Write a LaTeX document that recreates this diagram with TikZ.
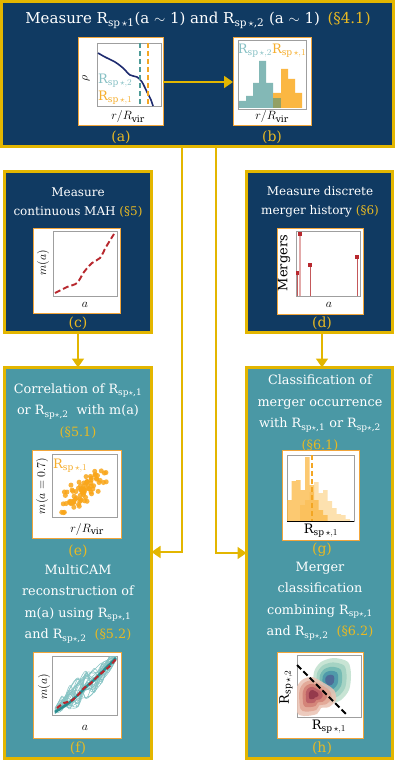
\documentclass[tikz,border=0pt]{standalone}
\usepackage{fontspec}
\setmainfont{DejaVu Serif}
\usetikzlibrary{arrows.meta,calc}
\definecolor{mynavy}{HTML}{103A62}
\definecolor{myteal}{HTML}{4A98A5}
\definecolor{myyellow}{HTML}{E3B600}
\definecolor{mygold}{HTML}{E8B923}
\definecolor{myorange}{HTML}{F2A53A}
\definecolor{dotorange}{HTML}{F9A61A}
\definecolor{lblteal}{HTML}{86C0C4}
\definecolor{lblorange}{HTML}{F6AE2D}
\definecolor{histteal}{HTML}{83B8B6}
\definecolor{historange}{HTML}{FBB742}
\definecolor{histolive}{HTML}{93A064}
\definecolor{curvenavy}{HTML}{1E2B6F}
\definecolor{dashteal}{HTML}{4E9B98}
\definecolor{dashorange}{HTML}{F3A623}
\definecolor{myred}{HTML}{B8282E}
\definecolor{stemred}{HTML}{C4585A}
\definecolor{stempink}{HTML}{E3AAAA}
\definecolor{thickteal}{HTML}{2A8C8F}
\definecolor{thinteal}{HTML}{86C4C4}
\newcommand{\Rs}[1]{R\textsubscript{sp$\star$,#1}}
\newcommand{\Rm}[1]{$\mathrm{R}_{\mathrm{sp}\,\star,#1}$}
\tikzset{
  stagebox/.style={draw=myyellow, line width=3pt, inner sep=0pt, outer sep=0pt, anchor=north west},
  navybox/.style={stagebox, fill=mynavy},
  tealbox/.style={stagebox, fill=myteal},
  plotbox/.style={draw=myorange, fill=white, line width=1pt, inner sep=0pt, outer sep=0pt, anchor=north west},
  axbox/.style={draw=gray!75, line width=0.6pt},
  conn/.style={draw=myyellow, line width=1.8pt, -{Triangle[width=12pt,length=9pt]}},
  wtext/.style={text=white, align=center, font=\fontsize{12.8}{21.5}\selectfont},
  wtextc/.style={text=white, align=center, font=\fontsize{12}{19}\selectfont},
  tag/.style={text=mygold, font=\fontsize{14}{15}\selectfont},
  plab/.style={font=\fontsize{13}{13}\selectfont, inner sep=0pt},
}
\begin{document}
\begin{tikzpicture}[x=1pt,y=-1pt]
\useasboundingbox (0,0) rectangle (397,762);
% ---------- stage boxes ----------
\node[navybox, minimum width=392, minimum height=145] (A) at (1.5,1.5) {};
\node[navybox, minimum width=147, minimum height=160.5] (C) at (4.5,171.5) {};
\node[navybox, minimum width=146, minimum height=160.5] (D) at (246.5,171.5) {};
\node[tealbox, minimum width=147, minimum height=391] (E) at (4.5,367.5) {};
\node[tealbox, minimum width=146, minimum height=391] (G) at (246.5,367.5) {};
% ---------- texts ----------
\node[text=white, font=\fontsize{15}{17}\selectfont] (tA) at (198,20)
  {Measure R\textsubscript{sp\,$\star$1}(a $\sim$ 1) and R\textsubscript{sp\,$\star$,2} (a $\sim$ 1)\enspace{\color{mygold}(§4.1)}};
\node[wtextc] (tC) at (78,203) {Measure\\continuous MAH {\color{mygold}(§5)}};
\node[wtextc] (tD) at (320,202) {Measure discrete\\merger history {\color{mygold}(§6)}};
\node[wtext] (tE) at (78,411) {Correlation of \Rs{1}\\or \Rs{2}~ with m(a)\\{\color{mygold}(§5.1)}};
\node[wtext] (tF) at (78,604) {MultiCAM\\reconstruction of\\m(a) using \Rs{1}\\and \Rs{2}~ {\color{mygold}(§5.2)}};
\node[wtext] (tG) at (320,413) {Classification of\\merger occurrence\\with \Rs{1} or \Rs{2}\\{\color{mygold}(§6.1)}};
\node[wtext] (tH) at (320,601) {Merger\\classification\\combining \Rs{1}\\and \Rs{2}~ {\color{mygold}(§6.2)}};
\node[tag] (la) at (121,137) {(a)};
\node[tag] (lb) at (272,137) {(b)};
\node[tag] (lc) at (78,323) {(c)};
\node[tag] (ld) at (322,323) {(d)};
\node[tag] (le) at (78,551) {(e)};
\node[tag] (lf) at (78,748) {(f)};
\node[tag] (lg) at (322,550) {(g)};
\node[tag] (lh) at (322,748) {(h)};
% ---------- connectors ----------
\coordinate (j1) at (182,552);
\coordinate (j2) at (216,553);
\draw[conn] (A.south -| j1) -- (j1) -- (E.east |- j1);
\draw[conn] (A.south -| j2) -- (j2) -- (G.west |- j2);
\draw[conn] (C.south -| lc) -- (E.north -| lc);
\draw[conn] (D.south -| ld) -- (G.north -| ld);
% ---------- plot (a) ----------
\node[plotbox, minimum width=85, minimum height=88] (pa) at (78,38) {};
\draw[axbox] (97,43) rectangle (161,106);
\draw[curvenavy, line width=1.6pt] plot[smooth] coordinates {(98,53) (105,57) (115,62) (123,68) (130,75) (137,77) (142,82) (147,92) (151,100) (153,106)};
\draw[dashteal, line width=1.7pt, dash pattern=on 5pt off 3pt] (140,43) -- (140,106);
\draw[dashorange, line width=1.7pt, dash pattern=on 5pt off 3pt] (148,43) -- (148,106);
\node[plab, rotate=90] (rho) at (86,78) {$\rho$};
\node[plab, anchor=west, text=lblteal] (a2) at (98,81) {\Rm{2}};
\node[plab, anchor=west, text=lblorange] (a1) at (98,98) {\Rm{1}};
\node[plab] (ax) at (128,117) {$r/R_{\mathrm{vir}}$};
% ---------- plot (b) ----------
\node[plotbox, minimum width=78, minimum height=88] (pb) at (233,38) {};
\draw[axbox] (238,40) rectangle (306,109);
\fill[histteal] (239,108) rectangle (246,101) (246,108) rectangle (253,96) (253,108) rectangle (259,83)
  (259,108) rectangle (266,61) (266,108) rectangle (273,83);
\fill[historange] (273,108) rectangle (281,93) (281,108) rectangle (288,69) (288,108) rectangle (295,79) (295,108) rectangle (302,93);
\fill[histolive] (273,108) rectangle (281,98);
\node[plab] (bl) at (272,51) {\textcolor{lblteal}{\Rm{2}}\textcolor{lblorange}{\Rm{1}}};
\node[plab] (bx) at (272,117) {$r/R_{\mathrm{vir}}$};
\draw[conn] (pa.east) -- (pb.west);
% ---------- plot (c) ----------
\node[plotbox, minimum width=87, minimum height=85] (pc) at (33,228) {};
\draw[axbox] (53,231) rectangle (117,296);
\draw[myred, line width=1.9pt, dash pattern=on 6pt off 3pt] plot[smooth] coordinates {(55,293) (67,287) (77,283) (84,272) (92,263) (100,258) (106,247) (114,234)};
\node[plab, rotate=90] (cy) at (43,263) {$m(a)$};
\node[plab] (cx) at (85,305) {$a$};
% ---------- plot (d) ----------
\node[plotbox, minimum width=86, minimum height=86] (pd) at (277,228) {};
\draw[axbox] (296,231) rectangle (360,296);
\draw[stempink, line width=1.8pt] (300,296) -- (300,234);
\draw[stemred, line width=0.9pt] (297.5,296) -- (297.5,273) (310,296) -- (310,265) (357,296) -- (357,257);
\fill[myred] (297.5,273) ++(-1.8,-1.8) rectangle ++(3.6,3.6);
\fill[myred] (300,234) ++(-1.8,-1.8) rectangle ++(3.6,3.6);
\fill[myred] (310,265) ++(-1.8,-1.8) rectangle ++(3.6,3.6);
\fill[myred] (357,257) ++(-1.8,-1.8) rectangle ++(3.6,3.6);
\node[plab, rotate=90] (dy) at (284,263) {$\mathrm{Mergers}$};
\node[plab] (dx) at (329,305) {$a$};
% ---------- plot (e) ----------
\node[plotbox, minimum width=89, minimum height=88] (pe) at (32,450) {};
\draw[axbox] (52,454) rectangle (117,517);
\begin{scope}
\clip (52,454) rectangle (117,517);
\pgfmathsetseed{11}
\foreach \i in {1,...,80}{
  \pgfmathsetmacro{\sT}{(rnd+rnd+rnd)/3}
  \pgfmathsetmacro{\sX}{57+56*\sT+9*rand}
  \pgfmathsetmacro{\sY}{512-46*\sT+9*rand}
  \fill[dotorange, opacity=0.85] (\sX,\sY) circle[radius=2.5];
}
\end{scope}
\node[plab, anchor=west, text=lblorange] (el) at (53,466) {\Rm{1}};
\node[plab, rotate=90, font=\fontsize{12.5}{12}\selectfont] (ey) at (42,486) {$m(a=0.7)$};
\node[plab] (ex) at (87,529) {$r/R_{\mathrm{vir}}$};
% ---------- plot (f) ----------
\node[plotbox, minimum width=88, minimum height=86] (pf) at (33,652) {};
\draw[axbox] (52,656) rectangle (117,715);
\begin{scope}
\clip (52,656) rectangle (117,715);
\pgfmathsetseed{5}
\foreach \i in {1,...,24}{
  \draw[thinteal, line width=0.55pt] plot[smooth] coordinates {(55,{711+3*rand}) (62,{704+8*rand}) (70,{698+13*rand}) (78,{692+15*rand}) (86,{686+15*rand}) (94,{679+14*rand}) (102,{671+12*rand}) (109,{664+8*rand}) (116,{658+3*rand})};
}
\draw[thickteal, line width=2.6pt] plot[smooth] coordinates {(55,712) (63,707) (70,702) (78,695) (86,687) (94,680) (102,672) (109,665) (116,658)};
\draw[myred, line width=2.1pt, dash pattern=on 5pt off 3pt] plot[smooth] coordinates {(57,708) (64,703) (71,701) (78,695) (84,688) (90,684) (97,677) (104,671) (110,666) (116,659)};
\end{scope}
\node[plab, rotate=90] (fy) at (44,687) {$m(a)$};
\node[plab] (fx) at (85,728) {$a$};
% ---------- plot (g) ----------
\node[plotbox, minimum width=77, minimum height=90] (pg) at (282,450) {};
\draw[axbox] (287,455) rectangle (354,521);
\begin{scope}[fill opacity=0.6]
\fill[historange!70!white] (300,521) rectangle (305,505) (305,521) rectangle (309.5,500) (309.5,521) rectangle (314,492)
  (314,521) rectangle (318.5,482) (318.5,521) rectangle (323,493) (323,521) rectangle (327.5,490) (327.5,521) rectangle (332,501)
  (332,521) rectangle (336.5,508) (336.5,521) rectangle (341,514) (341,521) rectangle (345.5,515) (345.5,521) rectangle (350,519);
\end{scope}
\begin{scope}[fill opacity=0.75]
\fill[historange] (287,521) rectangle (291.5,500) (291.5,521) rectangle (296,481) (296,521) rectangle (300.5,480)
  (300.5,521) rectangle (305,490) (305,521) rectangle (309.5,457) (309.5,521) rectangle (314,485) (314,521) rectangle (318.5,500)
  (318.5,521) rectangle (323,510) (323,521) rectangle (327.5,515);
\end{scope}
\draw[black, line width=0.8pt] (287,521) -- (354,521);
\draw[dashorange, line width=1.7pt, dash pattern=on 5pt off 3pt] (312,455) -- (312,521);
\node[plab] (gx) at (321,531) {\Rm{1}};
% ---------- plot (h) ----------
\node[plotbox, minimum width=86, minimum height=86] (ph) at (277,652) {};
\draw[axbox] (297,655) rectangle (361,717);
\begin{scope}
\clip (297,655) rectangle (361,717);
\begin{scope}[shift={(329,680)}]
\foreach \s/\c in {1/C8E4D4, 0.8/A5D3C3, 0.6/76BBB4, 0.42/4F9AAA, 0.24/4D6A97}{
  \definecolor{cc}{HTML}{\c}
  \fill[cc, scale=\s] plot[smooth cycle] coordinates {(-15,-8) (-8,-18) (5,-22) (19,-18) (22,-5) (20,10) (12,20) (2,23) (-8,18) (-15,8)};
}
\end{scope}
\begin{scope}[shift={(313,694)}, fill opacity=0.85]
\foreach \s/\c in {1/EBC3B3, 0.8/E2A593, 0.6/D27F74, 0.42/BA5A63, 0.24/8E3448}{
  \definecolor{cc}{HTML}{\c}
  \fill[cc, scale=\s] plot[smooth cycle] coordinates {(-17,-4) (-11,-14) (-1,-17) (11,-11) (21,-4) (23,6) (16,13) (8,14) (4,20) (-9,22) (-16,18)};
}
\end{scope}
\end{scope}
\draw[black, line width=2pt, dash pattern=on 6pt off 3pt] (297,665) -- (346,714);
\node[plab, rotate=90] (hy) at (286,687) {\Rm{2}};
\node[plab] (hx) at (329,727) {\Rm{1}};
\end{tikzpicture}
\end{document}
